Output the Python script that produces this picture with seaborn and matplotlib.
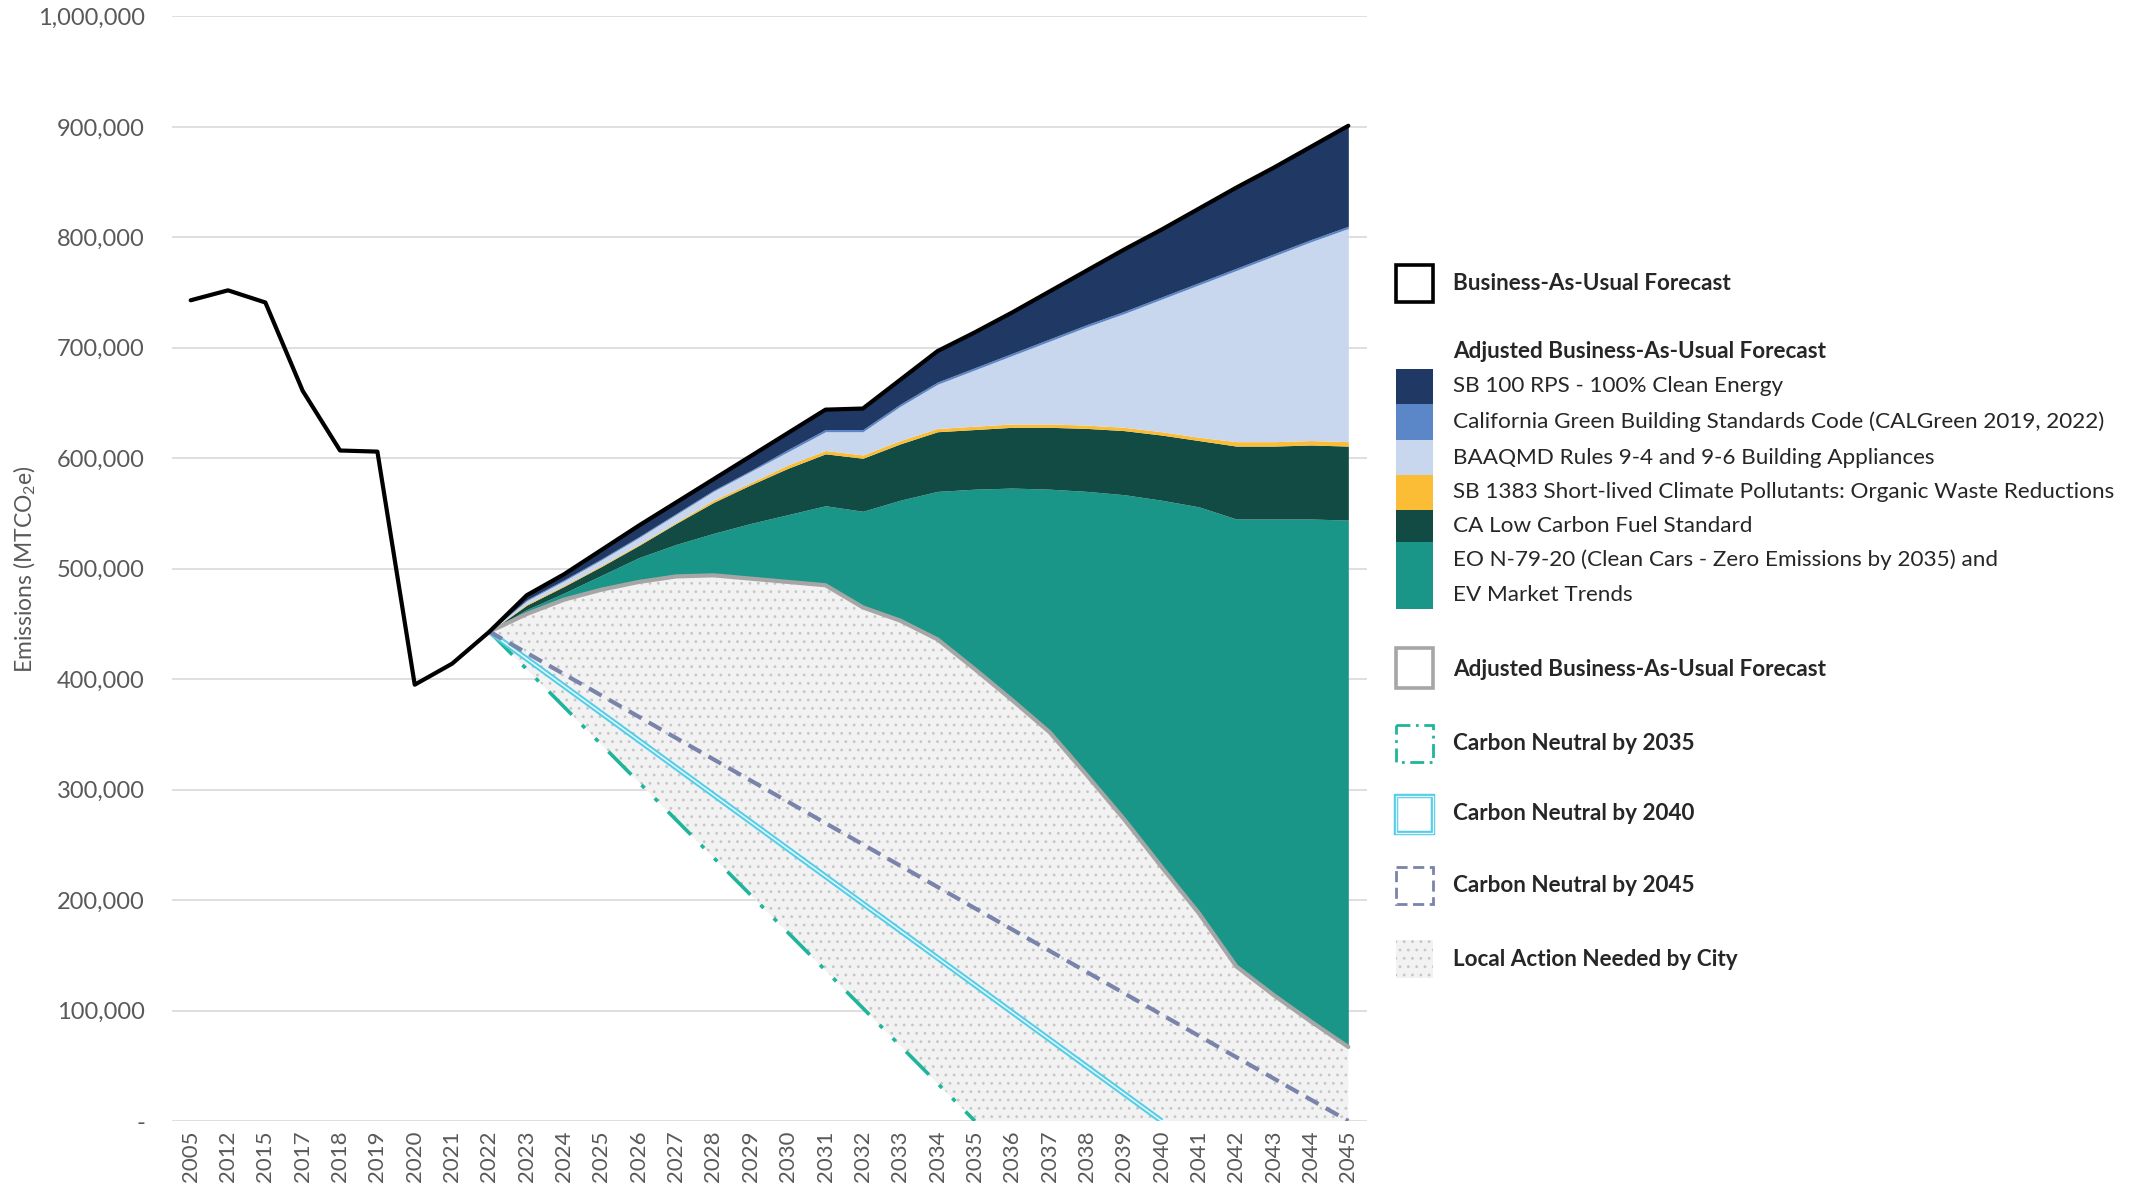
import numpy as np
import seaborn as sns
import matplotlib.pyplot as plt
from matplotlib.patches import Rectangle
from matplotlib.ticker import FuncFormatter, MultipleLocator

# category axis (Excel style, not evenly spaced years)
years = ['2005', '2012', '2015', '2017', '2018', '2019', '2020', '2021',
         '2022', '2023', '2024', '2025', '2026', '2027', '2028', '2029',
         '2030', '2031', '2032', '2033', '2034', '2035', '2036', '2037',
         '2038', '2039', '2040', '2041', '2042', '2043', '2044', '2045']
forecast_years = years[8:]

# all values in thousand MTCO2e
bau = [743, 752, 741, 661, 607, 606, 395, 414,
       443, 476, 495, 517, 539, 560, 581, 602, 623, 644, 645, 671,
       697, 714, 732, 751, 770, 789, 807, 826, 845, 863, 882, 901]

adj_bau = [443, 459, 472, 481, 488, 493, 494, 491, 488, 485, 465, 453,
           436, 409, 381, 352, 313, 273, 230, 188, 140, 114, 90, 67]

# reductions stacked above the adjusted forecast
eo_n7920 = [0, 4, 6, 13, 22, 29, 38, 50, 61, 72, 87, 109,
            134, 163, 192, 220, 257, 294, 332, 368, 405, 431, 455, 477]
lcfs = [0, 4, 6, 8, 11, 19, 28, 35, 42, 47, 48, 51,
        54, 54, 55, 56, 57, 58, 59, 60, 66, 66, 67, 67]
sb1383 = [0, 1, 1, 1, 1, 1, 2, 2, 3, 3, 3, 3,
          3, 3, 3, 3, 3, 3, 3, 3, 4, 4, 4, 4]
baaqmd = [0, 3, 4, 5, 6, 7, 8, 10, 12, 17, 21, 31,
          40, 51, 62, 75, 89, 103, 120, 138, 155, 168, 180, 193]
calgreen = [0, 1, 1, 1, 1, 1, 1, 1, 2, 2, 2, 2,
            2, 2, 2, 2, 2, 2, 2, 2, 2, 2, 2, 2]
sb100 = [0, 4, 5, 8, 10, 10, 10, 13, 15, 18, 19, 22,
         28, 32, 37, 43, 49, 56, 61, 67, 73, 78, 84, 91]

# carbon neutral target lines (start year, zero year)
cn2035_years, cn2035 = ['2022', '2035'], [443, 0]
cn2040_years, cn2040 = ['2022', '2040'], [443, 0]
cn2045_years, cn2045 = ['2022', '2045'], [443, 0]

c_sb100 = '#1f3864'
c_calgreen = '#5b87c9'
c_baaqmd = '#c9d7ee'
c_sb1383 = '#fbbc36'
c_lcfs = '#114b43'
c_eo = '#1a9688'
c_grey = '#a6a6a6'
c_cn35 = '#1fb59b'
c_cn40 = '#55cde6'
c_cn45 = '#7a84ab'
c_tick = '#595959'
c_dots = '#c6c6c6'
c_dotbg = '#f2f2f2'

sns.set_theme(style='white')
plt.rcParams['font.family'] = ['Lato', 'DejaVu Sans']
plt.rcParams['mathtext.default'] = 'regular'
plt.rcParams['hatch.linewidth'] = 0.8

K = 1000
pos = {y: i for i, y in enumerate(years)}
x_all = np.arange(len(years))
x_fc = np.array([pos[y] for y in forecast_years])

fig = plt.figure(figsize=(21.42, 11.86), dpi=100)
ax = fig.add_axes([172 / 2142, 1 - 1121 / 1186, 1195 / 2142, 1104.6 / 1186])

# local action needed: between the 2035 path and the adjusted forecast
low_x = [pos[cn2035_years[0]], pos[cn2035_years[1]], pos[forecast_years[-1]]]
low_y = [cn2035[0], cn2035[1], cn2035[1]]
poly_x = np.concatenate([x_fc, low_x[::-1]])
poly_y = np.concatenate([adj_bau, low_y[::-1]]) * K
ax.fill(poly_x, poly_y, facecolor=c_dotbg, edgecolor=c_dots,
        hatch='..', linewidth=0, zorder=1)

layers = [adj_bau, eo_n7920, lcfs, sb1383, baaqmd, calgreen, sb100]
ax.stackplot(x_fc, *[np.array(l) * K for l in layers],
             colors=['none', c_eo, c_lcfs, c_sb1383, c_baaqmd, c_calgreen, c_sb100],
             linewidth=0, zorder=2)

sns.lineplot(x=x_fc, y=np.array(adj_bau) * K, color=c_grey, lw=3, ax=ax, zorder=3)

ax.plot([pos[y] for y in cn2035_years], np.array(cn2035) * K, color=c_cn35,
        lw=2.6, linestyle=(0, (9, 4, 1.2, 4, 1.2, 4)), zorder=4)
ax.plot([pos[y] for y in cn2040_years], np.array(cn2040) * K, color=c_cn40,
        lw=4, solid_capstyle='butt', zorder=4)
ax.plot([pos[y] for y in cn2040_years], np.array(cn2040) * K, color='#e6fafd',
        lw=1.1, solid_capstyle='butt', zorder=4)
ax.plot([pos[y] for y in cn2045_years], np.array(cn2045) * K, color=c_cn45,
        lw=3, linestyle=(0, (3.5, 2)), zorder=4)

sns.lineplot(x=x_all, y=np.array(bau) * K, color='black', lw=3, ax=ax, zorder=5)

ax.set_xlim(-0.5, len(years) - 0.5)
ax.set_ylim(0, 1000000)
ax.set_xticks(x_all)
ax.set_xticklabels(years, rotation=90, fontsize=16, color=c_tick)
ax.yaxis.set_major_locator(MultipleLocator(100000))
ax.yaxis.set_major_formatter(FuncFormatter(lambda v, p: '-' if v == 0 else f'{int(v):,}'))
ax.tick_params(axis='y', labelsize=17, labelcolor=c_tick, length=0, pad=19.5)
ax.tick_params(axis='x', length=0, pad=7)
ax.grid(axis='y', color='#d9d9d9', lw=1.2)
ax.set_axisbelow(True)
for s in ax.spines.values():
    s.set_visible(False)
ax.set_ylabel('Emissions (MTCO$_2$e)', fontsize=16.5, color=c_tick, labelpad=0)
ax.yaxis.set_label_coords(-0.112, 0.5)

# hand-built legend in figure pixels
lg = fig.add_axes([0, 0, 1, 1], facecolor='none')
lg.set_xlim(0, 2142)
lg.set_ylim(1186, 0)
lg.axis('off')

bx, bw, tx = 1396, 37, 1453
fs = 16.2

lg.add_patch(Rectangle((bx, 265), bw, 37, facecolor='white', edgecolor='black', lw=2.6))
lg.text(tx, 283, 'Business-As-Usual Forecast', fontsize=fs, fontweight='bold', va='center')

lg.text(tx, 351, 'Adjusted Business-As-Usual Forecast', fontsize=fs, fontweight='bold', va='center')
swatches = [(c_sb100, 369, 404, 'SB 100 RPS - 100% Clean Energy'),
            (c_calgreen, 404, 440, 'California Green Building Standards Code (CALGreen 2019, 2022)'),
            (c_baaqmd, 440, 475, 'BAAQMD Rules 9-4 and 9-6 Building Appliances'),
            (c_sb1383, 475, 510, 'SB 1383 Short-lived Climate Pollutants: Organic Waste Reductions'),
            (c_lcfs, 510, 542, 'CA Low Carbon Fuel Standard'),
            (c_eo, 542, 609, 'EO N-79-20 (Clean Cars - Zero Emissions by 2035) and')]
for col, y0, y1, lab in swatches:
    lg.add_patch(Rectangle((bx, y0), bw, y1 - y0, facecolor=col, lw=0))
    lg.text(tx, (y0 + y1) / 2 if col != c_eo else 560, lab, fontsize=fs, va='center')
lg.text(tx, 595, 'EV Market Trends', fontsize=fs, va='center')

lg.add_patch(Rectangle((bx, 648), bw, 40, facecolor='white', edgecolor=c_grey, lw=2.6))
lg.text(tx, 669, 'Adjusted Business-As-Usual Forecast', fontsize=fs, fontweight='bold', va='center')

lg.add_patch(Rectangle((bx, 725), bw, 37, facecolor='white', edgecolor=c_cn35, lw=2,
                       linestyle=(0, (5, 2, 1, 2))))
lg.text(tx, 743, 'Carbon Neutral by 2035', fontsize=fs, fontweight='bold', va='center')

lg.add_patch(Rectangle((bx, 796), bw, 37, facecolor='white', edgecolor=c_cn40, lw=3.2))
lg.add_patch(Rectangle((bx, 796), bw, 37, facecolor='none', edgecolor='#e6fafd', lw=0.9))
lg.text(tx, 814, 'Carbon Neutral by 2040', fontsize=fs, fontweight='bold', va='center')

lg.add_patch(Rectangle((bx, 867), bw, 37, facecolor='white', edgecolor=c_cn45, lw=2,
                       linestyle=(0, (4, 2))))
lg.text(tx, 885, 'Carbon Neutral by 2045', fontsize=fs, fontweight='bold', va='center')

lg.add_patch(Rectangle((bx, 940), bw, 38, facecolor=c_dotbg, edgecolor=c_dots,
                       hatch='..', lw=0))
lg.text(tx, 959, 'Local Action Needed by City', fontsize=fs, fontweight='bold', va='center')

fig.savefig('out.png', dpi=100)
